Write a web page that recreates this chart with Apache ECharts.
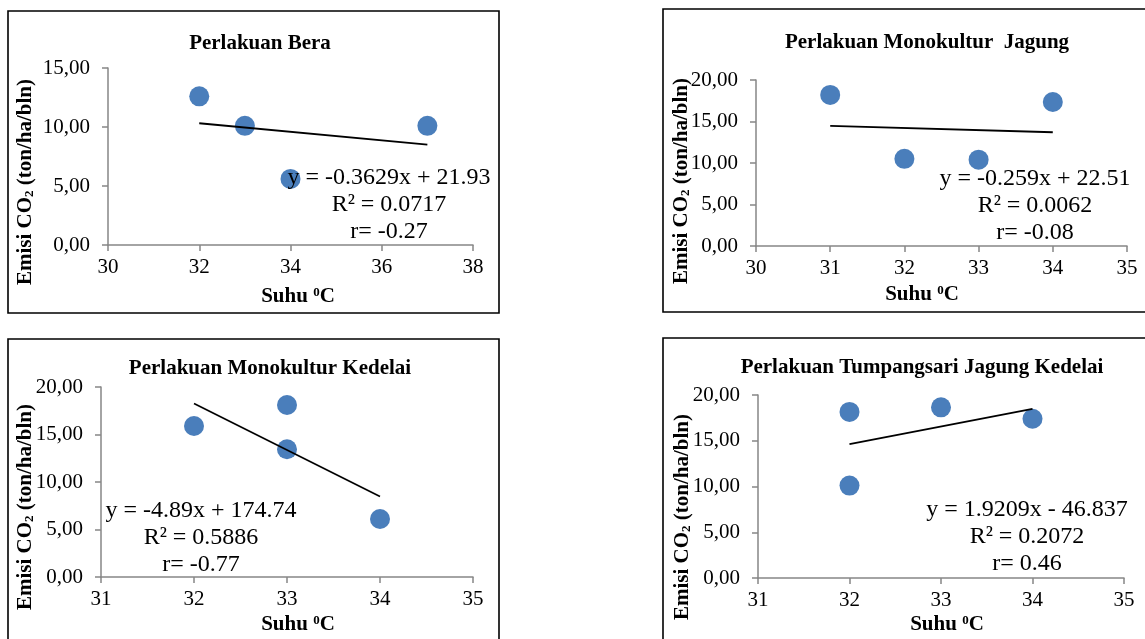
<!DOCTYPE html>
<html>
<head>
<meta charset="utf-8">
<script src="https://cdn.jsdelivr.net/npm/echarts@6/dist/echarts.min.js"></script>
<style>
html,body{margin:0;padding:0;background:#fff;}
#chart{width:1145px;height:639px;}
</style>
</head>
<body>
<div id="chart"></div>
<script>
// ---- data ----
const titles = ['Perlakuan Bera', 'Perlakuan Monokultur  Jagung', 'Perlakuan Monokultur Kedelai', 'Perlakuan Tumpangsari Jagung Kedelai'];
const beraX = [32, 33, 34, 37];
const beraY = [12.6, 10.1, 5.6, 10.1];
const jagungX = [31, 32, 33, 34];
const jagungY = [18.2, 10.5, 10.4, 17.35];
const kedelaiX = [32, 33, 33, 34];
const kedelaiY = [15.9, 18.1, 13.45, 6.1];
const tumpangX = [32, 32, 33, 34];
const tumpangY = [18.15, 10.1, 18.65, 17.4];
const slopes = [-0.3629, -0.259, -4.89, 1.9209];
const intercepts = [21.93, 22.51, 174.74, -46.837];
const eqLabels = [
  'y = -0.3629x + 21.93\nR² = 0.0717\nr= -0.27',
  'y = -0.259x + 22.51\nR² = 0.0062\nr= -0.08',
  'y = -4.89x + 174.74\nR² = 0.5886\nr= -0.77',
  'y = 1.9209x - 46.837\nR² = 0.2072\nr= 0.46'
];
const xMin = [30, 30, 31, 31];
const xMax = [38, 35, 35, 35];
const xStep = [2, 1, 1, 1];
const yMax = [15, 20, 20, 20];
const yStep = [5, 5, 5, 5];

const xs = [beraX, jagungX, kedelaiX, tumpangX];
const ys = [beraY, jagungY, kedelaiY, tumpangY];

// ---- layout ----
const grids = [
  {left: 108, top: 68, width: 365, height: 177},
  {left: 756, top: 80, width: 371, height: 166},
  {left: 101, top: 387, width: 372, height: 190},
  {left: 758, top: 395, width: 366, height: 183}
];
const borders = [
  {x: 8, y: 11, w: 491, h: 302},
  {x: 663, y: 9, w: 500, h: 303},
  {x: 8, y: 339, w: 491, h: 320},
  {x: 663, y: 338, w: 500, h: 320}
];
const titlePos = [[260, 44], [927, 43], [270, 369], [922, 368]];
const xNamePos = [[298, 297], [922, 295], [298, 625], [947, 625]];
const yNamePos = [[26, 182], [682, 181], [26, 507], [683, 517]];
const eqPos = [[389, 205], [1035, 206], [201, 538], [1027, 537]];

const FONT = 'Liberation Serif, Times New Roman, serif';
const AXIS_COLOR = '#868686';

const xAxis = [], yAxis = [], series = [], graphic = [];
for (let i = 0; i < 4; i++) {
  xAxis.push({
    type: 'value', gridIndex: i, min: xMin[i], max: xMax[i], interval: xStep[i],
    splitLine: {show: false},
    axisLine: {show: true, lineStyle: {color: AXIS_COLOR, width: 1.5}},
    axisTick: {show: true, inside: false, length: 6, lineStyle: {color: AXIS_COLOR, width: 1.5}},
    axisLabel: {color: '#000', fontFamily: FONT, fontSize: 21, margin: 12}
  });
  yAxis.push({
    type: 'value', gridIndex: i, min: 0, max: yMax[i], interval: yStep[i],
    splitLine: {show: false},
    axisLine: {show: true, lineStyle: {color: AXIS_COLOR, width: 1.5}},
    axisTick: {show: true, inside: false, length: 6, lineStyle: {color: AXIS_COLOR, width: 1.5}},
    axisLabel: {color: '#000', fontFamily: FONT, fontSize: 21, margin: 18,
      formatter: v => v.toFixed(2).replace('.', ',')}
  });
  series.push({
    type: 'scatter', xAxisIndex: i, yAxisIndex: i,
    data: xs[i].map((x, k) => [x, ys[i][k]]),
    symbolSize: 20,
    itemStyle: {color: '#4a7ebb', opacity: 1},
    z: 2
  });
  const lo = Math.min(...xs[i]), hi = Math.max(...xs[i]);
  series.push({
    type: 'line', xAxisIndex: i, yAxisIndex: i,
    data: [[lo, slopes[i] * lo + intercepts[i]], [hi, slopes[i] * hi + intercepts[i]]],
    showSymbol: false, symbol: 'none', silent: true,
    lineStyle: {color: '#000', width: 1.8},
    z: 3
  });
  const b = borders[i];
  graphic.push({
    type: 'rect', shape: {x: b.x, y: b.y, width: b.w, height: b.h},
    style: {fill: 'none', stroke: '#000', lineWidth: 1.6}, silent: true
  });
  graphic.push({
    type: 'text', x: titlePos[i][0], y: titlePos[i][1],
    style: {text: titles[i], fill: '#000', font: 'bold 21px ' + FONT, textAlign: 'center', textVerticalAlign: 'middle'}
  });
  graphic.push({
    type: 'text', x: xNamePos[i][0], y: xNamePos[i][1],
    style: {
      text: '{b|Suhu }{s|0}{b|C}', textAlign: 'center', textVerticalAlign: 'middle',
      rich: {
        b: {fontFamily: FONT, fontSize: 21, fontWeight: 'bold', fill: '#000', color: '#000'},
        s: {fontFamily: FONT, fontSize: 13, fontWeight: 'bold', fill: '#000', color: '#000', verticalAlign: 'top'}
      }
    }
  });
  graphic.push({
    type: 'text', x: yNamePos[i][0], y: yNamePos[i][1], rotation: Math.PI / 2,
    style: {
      text: '{b|Emisi CO}{s|2}{b| (ton/ha/bln)}', textAlign: 'center', textVerticalAlign: 'middle',
      rich: {
        b: {fontFamily: FONT, fontSize: 21, fontWeight: 'bold', fill: '#000', color: '#000'},
        s: {fontFamily: FONT, fontSize: 13, fontWeight: 'bold', fill: '#000', color: '#000', verticalAlign: 'bottom'}
      }
    }
  });
  graphic.push({
    type: 'text', x: eqPos[i][0], y: eqPos[i][1], z: 10,
    style: {text: eqLabels[i], fill: '#000', font: '24px ' + FONT, lineHeight: 27, textAlign: 'center', textVerticalAlign: 'middle'}
  });
}

const chart = echarts.init(document.getElementById('chart'), null, {renderer: 'canvas'});
chart.setOption({
  animation: false,
  backgroundColor: '#fff',
  grid: grids,
  xAxis: xAxis,
  yAxis: yAxis,
  series: series,
  graphic: graphic
});
</script>
</body>
</html>
